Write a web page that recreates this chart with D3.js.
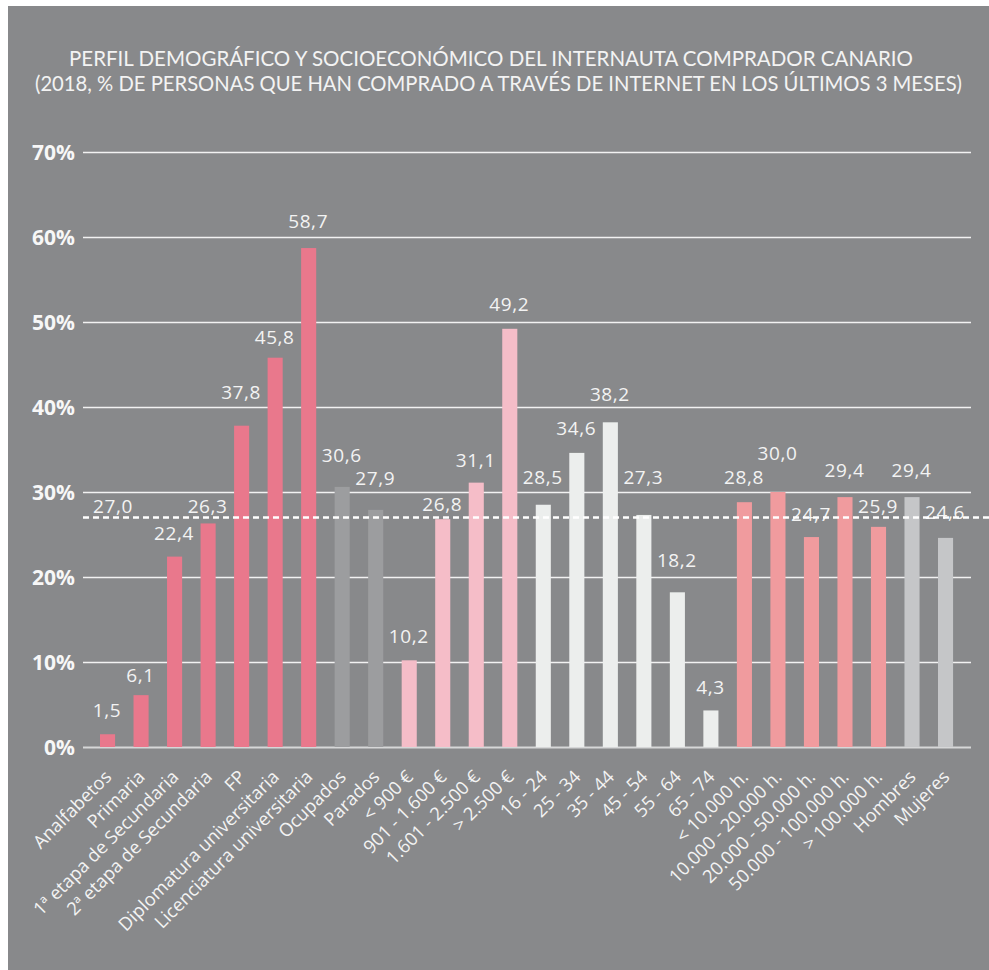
<!DOCTYPE html>
<html>
<head>
<meta charset="utf-8">
<script src="https://cdn.jsdelivr.net/npm/d3@7"></script>
<style>
  html, body { margin: 0; padding: 0; background: #ffffff; }
  svg { display: block; }
  text { font-family: "Open Sans", "Noto Sans", sans-serif; }
</style>
</head>
<body>
<svg id="chart" width="989" height="970"></svg>
<script>
// Perfil del internauta comprador canario, 2018
const categories = [
  "Analfabetos", "Primaria", "1ª etapa de Secundaria", "2ª etapa de Secundaria", "FP",
  "Diplomatura universitaria", "Licenciatura universitaria",
  "Ocupados", "Parados",
  "< 900 €", "901 - 1.600 €", "1.601 - 2.500 €", "> 2.500 €",
  "16 - 24", "25 - 34", "35 - 44", "45 - 54", "55 - 64", "65 - 74",
  "< 10.000 h.", "10.000 - 20.000 h.", "20.000 - 50.000 h.", "50.000 - 100.000 h.", "> 100.000 h.",
  "Hombres", "Mujeres"
];
const values = [
  1.5, 6.1, 22.4, 26.3, 37.8, 45.8, 58.7,
  30.6, 27.9,
  10.2, 26.8, 31.1, 49.2,
  28.5, 34.6, 38.2, 27.3, 18.2, 4.3,
  28.8, 30.0, 24.7, 29.4, 25.9,
  29.4, 24.6
];
const groups = [
  "estudios", "estudios", "estudios", "estudios", "estudios", "estudios", "estudios",
  "situacion", "situacion",
  "ingresos", "ingresos", "ingresos", "ingresos",
  "edad", "edad", "edad", "edad", "edad", "edad",
  "habitat", "habitat", "habitat", "habitat", "habitat",
  "sexo", "sexo"
];
const average = 27.0;
const yTicks = [0, 10, 20, 30, 40, 50, 60, 70];
const titleLines = [
  "PERFIL DEMOGRÁFICO Y SOCIOECONÓMICO DEL INTERNAUTA COMPRADOR CANARIO",
  "(2018, % DE PERSONAS QUE HAN COMPRADO A TRAVÉS DE INTERNET EN LOS ÚLTIMOS 3 MESES)"
];

// Colours per group
const groupColor = d3.scaleOrdinal()
  .domain(["estudios", "situacion", "ingresos", "edad", "habitat", "sexo"])
  .range(["#e9788c", "#9c9d9f", "#f5bdc8", "#eceeed", "#f09b9e", "#c5c6c8"]);

// Vertical distance between each bar top and its value label baseline
const labelLift = [17.5, 13.5, 16.6, 10.7, 26.4, 13.7, 19.7, 24.6, 24.8, 17, 8.2, 16, 18.1,
  20.7, 17.9, 21.6, 31, 25, 16, 18.2, 32, 16, 19.8, 14.2, 19.8, 18.9];

const svg = d3.select("#chart");
const W = 989, H = 970;
const textColor = "#f3f3f3";

// Grey panel
svg.append("rect").attr("x", 0).attr("y", 0).attr("width", W).attr("height", H).attr("fill", "#ffffff");
svg.append("rect").attr("x", 8).attr("y", 6).attr("width", W - 8).attr("height", H - 6).attr("fill", "#88898b");

// Title
const titleLayout = [{ cx: 491, y: 66, len: 844 }, { cx: 498.5, y: 90.5, len: 927 }];
svg.append("g").selectAll("text").data(titleLines).join("text")
  .attr("x", (d, i) => titleLayout[i].cx)
  .attr("y", (d, i) => titleLayout[i].y)
  .attr("text-anchor", "middle")
  .attr("textLength", (d, i) => titleLayout[i].len)
  .attr("lengthAdjust", "spacingAndGlyphs")
  .attr("fill", textColor)
  .attr("font-size", 20.5)
  .style("font-family", "Lato, 'Open Sans', sans-serif")
  .text(d => d);

// Scales
const plotLeft = 83, plotRight = 971;
const y = d3.scaleLinear().domain([0, 70]).range([747, 152]);
const x = d3.scaleBand().domain(categories)
  .range([90.78, 962.3]).paddingInner(0.55).paddingOuter(0.275);

// Gridlines + y tick labels
const yAxis = d3.axisLeft(y).tickValues(yTicks)
  .tickSize(-(plotRight - plotLeft)).tickPadding(8)
  .tickFormat(d => d + "%");
const gy = svg.append("g").attr("transform", `translate(${plotLeft},0)`).call(yAxis);
gy.select(".domain").remove();
gy.selectAll(".tick line")
  .attr("stroke", d => d === 0 ? "#d6d7d8" : "#f2f2f2")
  .attr("stroke-width", d => d === 0 ? 2.2 : 1.3);
gy.selectAll(".tick text")
  .attr("fill", "#f7f7f7")
  .attr("font-size", 21)
  .attr("font-weight", 700)
  .attr("dy", "0.35em")
  .style("font-family", "'Open Sans', sans-serif");

// Bars
svg.append("g").selectAll("rect").data(values).join("rect")
  .attr("x", (d, i) => x(categories[i]))
  .attr("y", d => y(d))
  .attr("width", x.bandwidth())
  .attr("height", d => y(0) - y(d))
  .attr("fill", (d, i) => groupColor(groups[i]));

// Value labels
const fmt = v => d3.format(".1f")(v).replace(".", ",");
svg.append("g").selectAll("text").data(values).join("text")
  .attr("x", (d, i) => x(categories[i]) + x.bandwidth() / 2 - 0.5)
  .attr("y", (d, i) => y(d) - labelLift[i])
  .attr("text-anchor", "middle")
  .attr("fill", textColor)
  .attr("font-size", 19)
  .attr("letter-spacing", 0.6)
  .text(d => fmt(d));

// Average line
svg.append("line")
  .attr("x1", plotLeft).attr("x2", W)
  .attr("y1", y(average)).attr("y2", y(average))
  .attr("stroke", "#ffffff").attr("stroke-width", 2.6)
  .attr("stroke-dasharray", "6,4");
svg.append("text")
  .attr("x", 113).attr("y", y(average) - 5)
  .attr("text-anchor", "middle")
  .attr("fill", textColor)
  .attr("font-size", 19)
  .attr("letter-spacing", 0.6)
  .text(fmt(average));

// Category labels
const xAxis = d3.axisBottom(x).tickSize(0).tickPadding(0);
const gx = svg.append("g").attr("transform", `translate(0,${y(0)})`).call(xAxis);
gx.select(".domain").remove();
gx.selectAll(".tick text")
  .attr("fill", textColor)
  .attr("font-size", 18.3)
  .attr("text-anchor", "end")
  .attr("y", 0).attr("dy", 0)
  .attr("transform", "translate(5,31) rotate(-45)")
  .style("font-family", "'Open Sans', sans-serif");
</script>
</body>
</html>
